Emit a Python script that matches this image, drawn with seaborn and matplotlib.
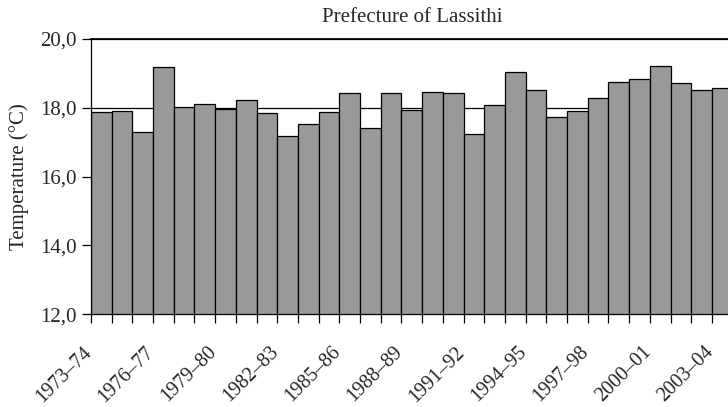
import numpy as np
import pandas as pd
import matplotlib
matplotlib.use("Agg")
import matplotlib.pyplot as plt
import seaborn as sns

# Mean annual temperature per hydrological year, Prefecture of Lassithi
seasons = [f"{y}\u2013{str(y + 1)[-2:]}" for y in range(1973, 2004)]
temperature = [
    17.87, 17.92, 17.30, 19.18, 18.03, 18.12, 17.98, 18.24, 17.84, 17.18,
    17.53, 17.89, 18.44, 17.41, 18.44, 17.95, 18.47, 18.44, 17.24, 18.09,
    19.03, 18.51, 17.73, 17.90, 18.30, 18.76, 18.85, 19.22, 18.73, 18.51,
    18.57,
]
y_ticks = [12.0, 14.0, 16.0, 18.0, 20.0]
y_tick_labels = ["12,0", "14,0", "16,0", "18,0", "20,0"]

df = pd.DataFrame({"season": seasons, "temperature": temperature})

sns.set_theme(style="white")
plt.rcParams["font.family"] = ["Liberation Serif", "DejaVu Serif"]

fig = plt.figure(figsize=(7.28, 4.07), dpi=100)
n = len(seasons)
bar_px = 20.7
ax = fig.add_axes([91 / 728, 1 - 314.3 / 407, n * bar_px / 728, (314.3 - 39) / 407])

# reference lines at each labelled temperature, drawn behind the bars
for v in y_ticks:
    ax.axhline(v, color="black", linewidth=0.9, zorder=0)

sns.barplot(
    data=df, x="season", y="temperature", ax=ax,
    color="#999999", saturation=1, width=1.0,
    edgecolor="black", linewidth=0.9, zorder=2,
)

ax.set_ylim(12.0, 20.0)
ax.set_xlim(-0.5, n - 0.5)
ax.set_yticks(y_ticks)
ax.set_yticklabels(y_tick_labels, fontsize=15)

# tick marks sit on the bar boundaries; every third season is labelled
# just right of its left boundary
edges = np.arange(n) - 0.5
ax.set_xticks(edges)
ax.set_xticklabels([])
label_idx = np.arange(0, n, 3)
ax.set_xticks(label_idx - 0.25, minor=True)
ax.set_xticklabels([seasons[i] for i in label_idx], minor=True,
                   rotation=45, ha="right", fontsize=14.5)

ax.tick_params(axis="both", which="major", direction="out", length=6.5,
               width=0.9, color="black", bottom=True, left=True)
ax.tick_params(axis="x", which="minor", length=0, pad=20.5, bottom=True)
ax.tick_params(axis="y", pad=4)

for side in ["left", "bottom", "top"]:
    ax.spines[side].set_color("black")
    ax.spines[side].set_linewidth(0.9)
ax.spines["top"].set_linewidth(1.3)
ax.spines["right"].set_visible(False)

ax.set_xlabel("")
ax.set_ylabel("Temperature (\u00b0C)", fontsize=15, labelpad=8)
ax.set_title("Prefecture of Lassithi", fontsize=15, pad=12)

fig.savefig("out.png", dpi=100)
